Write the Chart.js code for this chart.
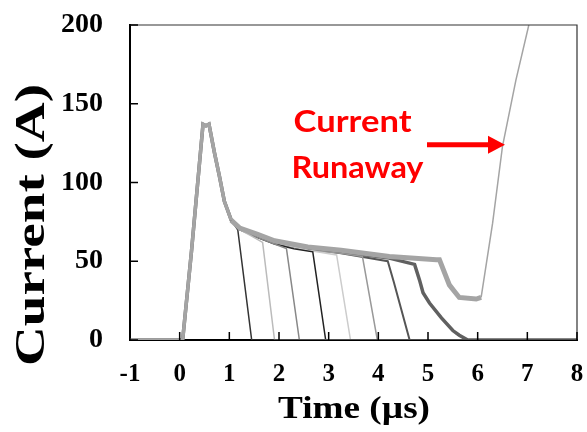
<!DOCTYPE html>
<html>
<head>
<meta charset="utf-8">
<script src="https://cdn.jsdelivr.net/npm/chart.js@4.4.0/dist/chart.umd.min.js"></script>
<style>
  html, body { margin: 0; padding: 0; background: #fff; }
</style>
</head>
<body>
<canvas id="currentChart" width="587" height="432"></canvas>
<script>
const xTicks = [-1, 0, 1, 2, 3, 4, 5, 6, 7, 8];
const yTicks = [0, 50, 100, 150, 200];

// turn-on pulse, the same for every shot
const riseTime    = [-1, 0.06, 0.24, 0.47, 0.53, 0.59, 0.70, 0.80, 0.90, 1.04];
const riseCurrent = [0, 0, 57, 137, 136, 137, 119, 104, 88, 76];

// what each shot does after the pulse
const tailTimeA = [1.17, 1.45, 8];
const tailCurrA = [70, 0, 0];
const tailTimeB = [1.21, 1.45, 1.67, 1.91, 8];
const tailCurrB = [70, 66, 62, 0, 0];
const tailTimeC = [1.21, 1.57, 1.91, 2.15, 2.41, 8];
const tailCurrC = [70, 65, 61, 58, 0, 0];
const tailTimeD = [1.21, 1.57, 1.91, 2.30, 2.68, 2.94, 8];
const tailCurrD = [70, 65, 61, 58, 56, 0, 0];
const tailTimeE = [1.21, 1.57, 1.91, 2.58, 3.16, 3.44, 8];
const tailCurrE = [70, 66, 62, 57, 54, 0, 0];
const tailTimeF = [1.21, 1.57, 1.91, 2.58, 3.25, 3.68, 3.98, 8];
const tailCurrF = [70, 66, 62, 57, 55, 53, 0, 0];
const tailTimeG = [1.21, 1.57, 1.91, 2.58, 3.25, 4.19, 4.31, 4.63, 8];
const tailCurrG = [71, 66, 62, 58, 55, 50, 37, 0, 0];
const tailTimeH = [1.21, 1.57, 1.91, 2.58, 3.25, 4.22, 4.73, 4.83, 4.90, 5.03, 5.27, 5.50, 5.63, 5.80, 8];
const tailCurrH = [71, 66, 62, 58, 56, 52, 48, 38, 30, 23.5, 14, 6, 3, 0, 0];
// the shot that runs away
const tailTimeR = [1.21, 1.57, 1.91, 2.58, 3.25, 4.22, 5.17, 5.23, 5.43, 5.53, 5.63, 5.97, 6.07, 6.30, 6.50, 6.77, 7.03];
const tailCurrR = [71, 67, 63, 59, 57, 53, 51, 51, 35, 31, 27, 26, 27, 74, 123, 165, 200];

function points(tail, curr) {
  const t = riseTime.concat(tail);
  const c = riseCurrent.concat(curr);
  return t.map((v, i) => ({ x: v, y: c[i] }));
}

function shot(tail, curr, color, width) {
  return {
    data: points(tail, curr),
    borderColor: color,
    borderWidth: width,
    pointRadius: 0,
    fill: false,
    tension: 0
  };
}

const serif = "'Liberation Serif', 'Times New Roman', serif";

// text drawn a little wider than the font
function wideText(ctx, text, cx, cy, width, angle) {
  ctx.save();
  ctx.translate(cx, cy);
  ctx.rotate(angle);
  const w = ctx.measureText(text).width;
  ctx.scale(width / w, 1);
  ctx.fillText(text, 0, 0);
  ctx.restore();
}

const frameAndLabels = {
  id: 'frameAndLabels',
  afterDraw(chart) {
    const { ctx, chartArea: a, scales: { x, y } } = chart;
    ctx.save();
    // top and right edges of the box
    ctx.strokeStyle = '#333';
    ctx.lineWidth = 1.2;
    ctx.beginPath();
    ctx.moveTo(a.left, a.top);
    ctx.lineTo(a.right, a.top);
    ctx.lineTo(a.right, a.bottom);
    ctx.stroke();

    // tick marks pointing into the plot
    ctx.strokeStyle = '#000';
    ctx.lineWidth = 1.5;
    ctx.beginPath();
    xTicks.forEach(v => {
      const px = x.getPixelForValue(v);
      ctx.moveTo(px, a.bottom);
      ctx.lineTo(px, a.bottom - 8);
    });
    yTicks.forEach(v => {
      const py = y.getPixelForValue(v);
      ctx.moveTo(a.left, py);
      ctx.lineTo(a.left + 8, py);
    });
    ctx.stroke();

    // axis titles
    ctx.fillStyle = '#000';
    ctx.textAlign = 'center';
    ctx.textBaseline = 'middle';
    ctx.font = 'bold 42px ' + serif;
    wideText(ctx, 'Current (A)', 33, 225, 282, -Math.PI / 2);
    ctx.font = 'bold 32px ' + serif;
    wideText(ctx, 'Time (\u00b5s)', 354, 410, 152, 0);

    // runaway note and arrow
    ctx.fillStyle = '#ff0000';
    ctx.font = 'bold 30px Lato, sans-serif';
    wideText(ctx, 'Current', x.getPixelForValue(3.48), y.getPixelForValue(138), 118, 0);
    wideText(ctx, 'Runaway', x.getPixelForValue(3.58), y.getPixelForValue(109), 132, 0);

    const ax0 = x.getPixelForValue(4.98), ax1 = x.getPixelForValue(6.55);
    const ay = y.getPixelForValue(124);
    ctx.strokeStyle = '#ff0000';
    ctx.lineWidth = 5;
    ctx.beginPath();
    ctx.moveTo(ax0, ay);
    ctx.lineTo(ax1 - 14, ay);
    ctx.stroke();
    ctx.beginPath();
    ctx.moveTo(ax1, ay);
    ctx.lineTo(ax1 - 17, ay - 9);
    ctx.lineTo(ax1 - 17, ay + 9);
    ctx.closePath();
    ctx.fill();
    ctx.restore();
  }
};

// thick noisy trace until the runaway, thin on the climb
const runaway = shot(tailTimeR, tailCurrR, '#a4a4a4', 3);
runaway.segment = { borderWidth: c => (c.p0.parsed.x >= 6.0 ? 1.5 : (c.p0.parsed.x >= 1.0 ? 5 : 3.5)) };

new Chart(document.getElementById('currentChart'), {
  type: 'line',
  data: {
    datasets: [
      runaway,
      shot(tailTimeA, tailCurrA, '#333333', 1.5),
      shot(tailTimeB, tailCurrB, '#bbbbbb', 1.5),
      shot(tailTimeC, tailCurrC, '#888888', 1.5),
      shot(tailTimeD, tailCurrD, '#222222', 1.5),
      shot(tailTimeE, tailCurrE, '#cccccc', 1.5),
      shot(tailTimeF, tailCurrF, '#999999', 1.5),
      shot(tailTimeG, tailCurrG, '#555555', 2),
      shot(tailTimeH, tailCurrH, '#606060', 3.5)
    ]
  },
  options: {
    responsive: false,
    animation: false,
    devicePixelRatio: 1,
    layout: { padding: { top: 25, right: 10, left: 0, bottom: 0 } },
    plugins: { legend: { display: false }, tooltip: { enabled: false } },
    scales: {
      x: {
        type: 'linear',
        min: -1,
        max: 8,
        afterFit: s => { s.height = 92; s.paddingLeft = 0; s.paddingRight = 0; },
        afterBuildTicks: s => { s.ticks = xTicks.map(v => ({ value: v })); },
        grid: { display: false, drawTicks: false },
        border: { display: true, color: '#000', width: 2 },
        ticks: {
          padding: 20,
          color: '#000',
          font: { family: serif, size: 25, weight: 'bold' }
        }
      },
      y: {
        min: 0,
        max: 200,
        afterFit: s => { s.width = 130; s.paddingTop = 0; s.paddingBottom = 0; },
        afterBuildTicks: s => { s.ticks = yTicks.map(v => ({ value: v })); },
        grid: { display: false, drawTicks: false },
        border: { display: true, color: '#000', width: 2 },
        ticks: {
          padding: 27,
          color: '#000',
          font: { family: serif, size: 28, weight: 'bold' }
        }
      }
    }
  },
  plugins: [frameAndLabels]
});
</script>
</body>
</html>
